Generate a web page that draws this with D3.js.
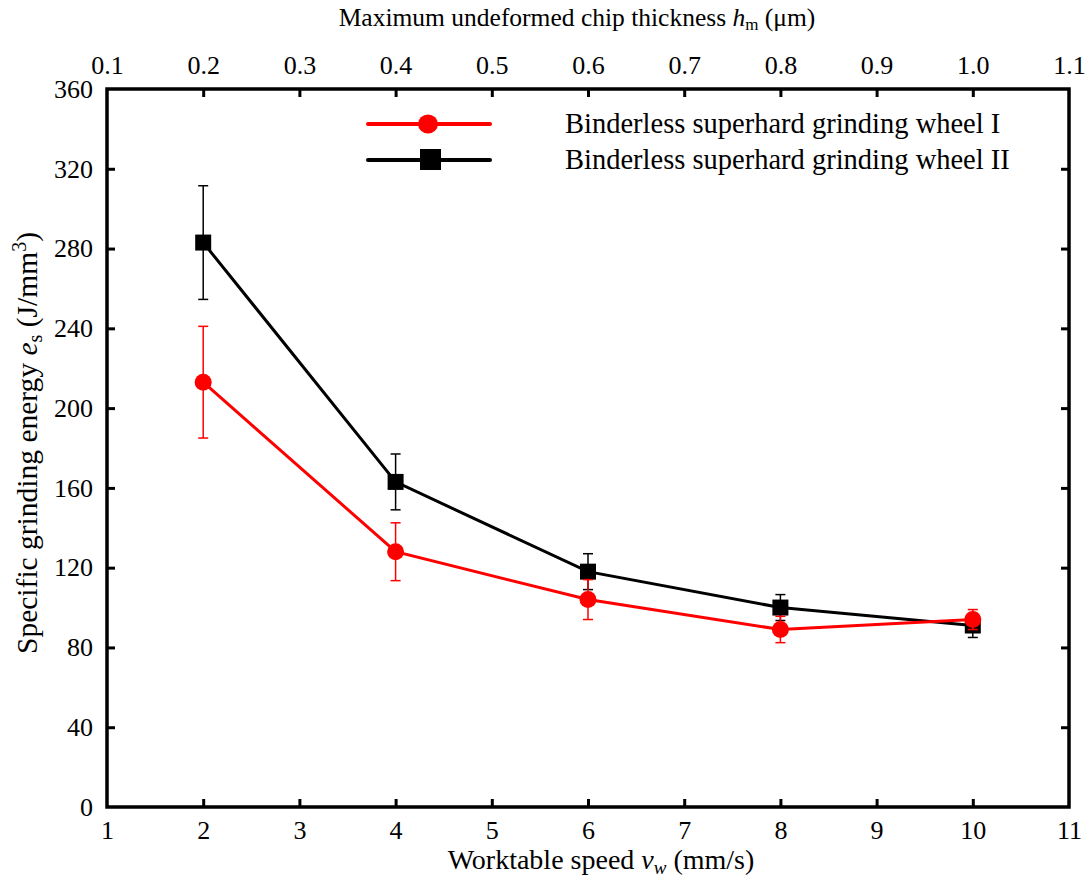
<!DOCTYPE html>
<html>
<head>
<meta charset="utf-8">
<script src="https://cdn.jsdelivr.net/npm/d3@7"></script>
<style>
  body { margin: 0; background: #fff; }
  svg text { font-family: "Times New Roman", "Liberation Serif", Tinos, "DejaVu Serif", serif; fill: #000; }
</style>
</head>
<body>
<div id="chart"></div>
<script>
// worktable speed (mm/s)
var speeds = [2, 4, 6, 8, 10];

// specific grinding energy, J/mm3, with error half-widths
var wheel1 = [213, 128, 104, 89, 94];
var wheel1Err = [28, 14.5, 10, 6.6, 5];
var wheel2 = [283, 163, 118, 100, 91];
var wheel2Err = [28.5, 14, 9, 6.5, 6];

var seriesNames = ["Binderless superhard grinding wheel I", "Binderless superhard grinding wheel II"];

var xTicks = [1, 2, 3, 4, 5, 6, 7, 8, 9, 10, 11];
var topTicks = ["0.1", "0.2", "0.3", "0.4", "0.5", "0.6", "0.7", "0.8", "0.9", "1.0", "1.1"];
var yTicks = [0, 40, 80, 120, 160, 200, 240, 280, 320, 360];

var W = 1086, H = 881;
var pL = 107, pR = 1069, pT = 89, pB = 807;
var serif = "'Times New Roman', 'Liberation Serif', Tinos, 'DejaVu Serif', serif";

var svg = d3.select("#chart").append("svg")
  .attr("width", W)
  .attr("height", H)
  .attr("font-family", serif);

var x = d3.scaleLinear().domain([1, 11]).range([pL, pR]);
var y = d3.scaleLinear().domain([0, 360]).range([pB, pT]);

var tickFs = 26, titleFs = 28;

// axes with inward ticks
var bottomAxis = d3.axisBottom(x).tickValues(xTicks).tickSize(-8).tickFormat(d3.format("d")).tickPadding(14);
var gb = svg.append("g").attr("transform", "translate(0," + pB + ")").call(bottomAxis);

var topAxis = d3.axisTop(x).tickValues(xTicks).tickSize(-8).tickPadding(15)
  .tickFormat((d, i) => topTicks[i]);
var gt = svg.append("g").attr("transform", "translate(0," + pT + ")").call(topAxis);

var leftAxis = d3.axisLeft(y).tickValues(yTicks).tickSize(-8).tickPadding(14);
var gl = svg.append("g").attr("transform", "translate(" + pL + ",0)").call(leftAxis);

var rightAxis = d3.axisRight(y).tickValues(yTicks).tickSize(-8).tickFormat("");
var gr = svg.append("g").attr("transform", "translate(" + pR + ",0)").call(rightAxis);

[gb, gt, gl, gr].forEach(function (g) {
  g.attr("font-family", serif).attr("font-size", tickFs);
  g.select(".domain").remove();
  g.selectAll(".tick line").attr("stroke", "#000").attr("stroke-width", 3);
  g.selectAll(".tick text").attr("fill", "#000");
});
// end ticks sit on the frame corners
gb.selectAll(".tick line").filter(d => d == 1 || d == 11).remove();
gt.selectAll(".tick line").filter(d => d == 1 || d == 11).remove();
gl.selectAll(".tick line").filter(d => d == 0 || d == 360).remove();
gr.selectAll(".tick line").filter(d => d == 0 || d == 360).remove();

svg.append("rect")
  .attr("x", pL).attr("y", pT)
  .attr("width", pR - pL).attr("height", pB - pT)
  .attr("fill", "none").attr("stroke", "#000").attr("stroke-width", 3.5);

// axis titles
var bt = svg.append("text").attr("x", 601).attr("y", 869)
  .attr("text-anchor", "middle").style("font-size", titleFs + "px");
bt.append("tspan").text("Worktable speed ");
bt.append("tspan").attr("font-style", "italic").text("v");
bt.append("tspan").attr("font-style", "italic").attr("dy", 5).style("font-size", "19px").text("w");
bt.append("tspan").attr("dy", -5).text(" (mm/s)");

var tt = svg.append("text").attr("x", 577).attr("y", 26)
  .attr("text-anchor", "middle").style("font-size", "25.5px");
tt.append("tspan").text("Maximum undeformed chip thickness ");
tt.append("tspan").attr("font-style", "italic").text("h");
tt.append("tspan").attr("dy", 4).style("font-size", "17px").text("m");
tt.append("tspan").attr("dy", -4).text(" (μm)");

var lt = svg.append("text")
  .attr("transform", "translate(37,443) rotate(-90)")
  .attr("text-anchor", "middle").style("font-size", "29.5px");
lt.append("tspan").text("Specific grinding energy ");
lt.append("tspan").attr("font-style", "italic").text("e");
lt.append("tspan").attr("dy", 5).style("font-size", "20px").text("s");
lt.append("tspan").attr("dy", -5).text(" (J/mm");
lt.append("tspan").attr("dy", -11).style("font-size", "20px").text("3");
lt.append("tspan").attr("dy", 11).text(")");

// series
function drawSeries(vals, errs, color, shape) {
  var pts = speeds.map((s, i) => ({ x: s, y: vals[i], e: errs[i] }));
  var g = svg.append("g");

  var eb = g.selectAll(".err").data(pts).enter().append("g");
  eb.append("line")
    .attr("x1", d => x(d.x)).attr("x2", d => x(d.x))
    .attr("y1", d => y(d.y + d.e)).attr("y2", d => y(d.y - d.e))
    .attr("stroke", color).attr("stroke-width", 1.5);
  eb.append("line")
    .attr("x1", d => x(d.x) - 5).attr("x2", d => x(d.x) + 5)
    .attr("y1", d => y(d.y + d.e)).attr("y2", d => y(d.y + d.e))
    .attr("stroke", color).attr("stroke-width", 1.5);
  eb.append("line")
    .attr("x1", d => x(d.x) - 5).attr("x2", d => x(d.x) + 5)
    .attr("y1", d => y(d.y - d.e)).attr("y2", d => y(d.y - d.e))
    .attr("stroke", color).attr("stroke-width", 1.5);

  g.append("path").datum(pts)
    .attr("fill", "none").attr("stroke", color).attr("stroke-width", 3)
    .attr("d", d3.line().x(d => x(d.x)).y(d => y(d.y)));

  if (shape == "circle") {
    g.selectAll("circle").data(pts).enter().append("circle")
      .attr("cx", d => x(d.x)).attr("cy", d => y(d.y)).attr("r", 8.5).attr("fill", color);
  } else {
    g.selectAll("rect").data(pts).enter().append("rect")
      .attr("x", d => x(d.x) - 8).attr("y", d => y(d.y) - 8)
      .attr("width", 16).attr("height", 16).attr("fill", color);
  }
}

drawSeries(wheel2, wheel2Err, "#000", "square");
drawSeries(wheel1, wheel1Err, "#ff0000", "circle");

// legend
var legend = svg.append("g");
var legendRows = [
  { name: seriesNames[0], color: "#ff0000", shape: "circle", y: 124 },
  { name: seriesNames[1], color: "#000", shape: "square", y: 160 }
];
legendRows.forEach(function (r) {
  legend.append("line").attr("x1", 368).attr("x2", 490).attr("y1", r.y).attr("y2", r.y)
    .attr("stroke", r.color).attr("stroke-width", 4).attr("stroke-linecap", "round");
  if (r.shape == "circle") {
    legend.append("ellipse").attr("cx", 428).attr("cy", r.y).attr("rx", 10).attr("ry", 9.5).attr("fill", r.color);
  } else {
    legend.append("rect").attr("x", 420).attr("y", r.y - 11).attr("width", 21).attr("height", 21).attr("fill", r.color);
  }
  legend.append("text").attr("x", 565).attr("y", r.y + 9).style("font-size", "28.5px").text(r.name);
});
</script>
</body>
</html>
